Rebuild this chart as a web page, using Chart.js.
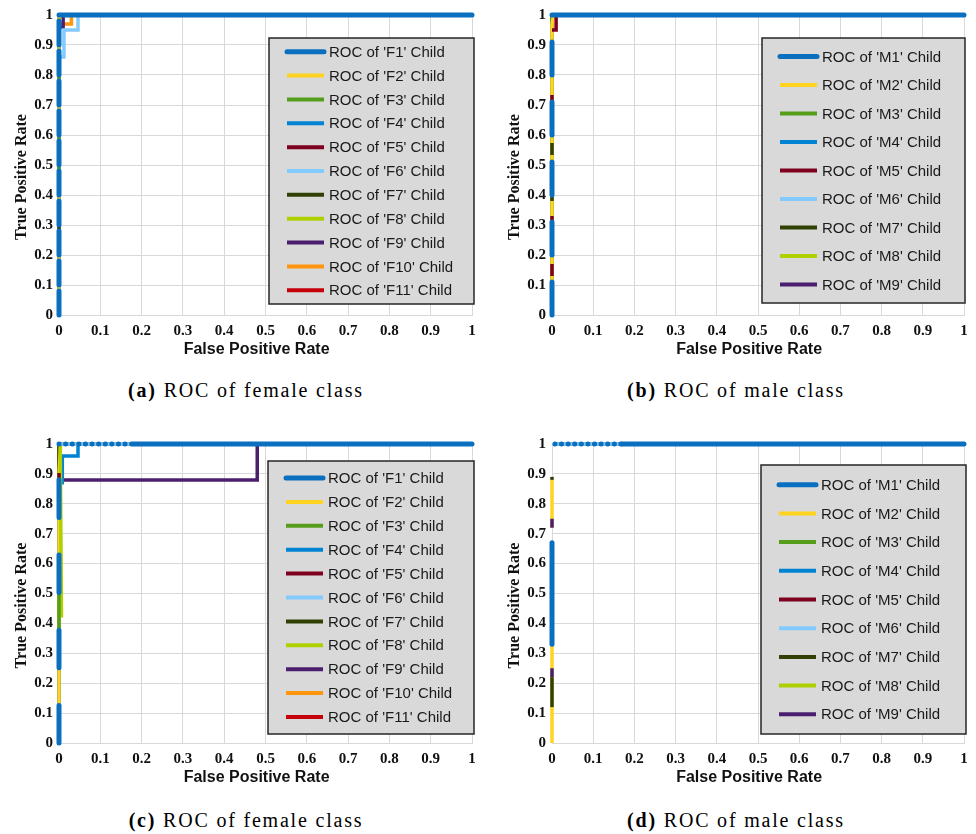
<!DOCTYPE html>
<html>
<head>
<meta charset="utf-8">
<script src="https://cdn.jsdelivr.net/npm/chart.js@4.4.0/dist/chart.umd.min.js"></script>
<style>
body{margin:0;background:#fff;width:976px;height:834px;position:relative;overflow:hidden}
.pane{position:absolute}
.cap{position:absolute;width:400px;text-align:center;font-family:"Liberation Serif",serif;font-size:20px;letter-spacing:1.8px;line-height:24px;color:#000}
</style>
</head>
<body>
<div class="pane" style="left:0;top:0;width:483px;height:360px"><canvas id="chartA"></canvas></div>
<div class="pane" style="left:493px;top:0;width:482px;height:360px"><canvas id="chartB"></canvas></div>
<div class="pane" style="left:0;top:429px;width:483px;height:359px"><canvas id="chartC"></canvas></div>
<div class="pane" style="left:493px;top:429px;width:482px;height:359px"><canvas id="chartD"></canvas></div>
<div class="cap" style="left:46px;top:378px"><b>(a)</b> ROC of female class</div>
<div class="cap" style="left:536px;top:378px"><b>(b)</b> ROC of male class</div>
<div class="cap" style="left:46px;top:808px"><b>(c)</b> ROC of female class</div>
<div class="cap" style="left:536px;top:808px"><b>(d)</b> ROC of male class</div>
<script>
// axis ticks (both axes, all panels)
var tickVals = [0, 0.1, 0.2, 0.3, 0.4, 0.5, 0.6, 0.7, 0.8, 0.9, 1];
var tickLabels = ['0', '0.1', '0.2', '0.3', '0.4', '0.5', '0.6', '0.7', '0.8', '0.9', '1'];

var femaleNames = ['F1', 'F2', 'F3', 'F4', 'F5', 'F6', 'F7', 'F8', 'F9', 'F10', 'F11'];
var maleNames = ['M1', 'M2', 'M3', 'M4', 'M5', 'M6', 'M7', 'M8', 'M9'];

// ROC points [fpr, tpr], null = break in the line
var rocA = [
	[[0, 0], [0, 1], [1, 1]],
	[[0, 0], [0, 1], [1, 1]],
	[[0, 0], [0, 1], [1, 1]],
	[[0, 0], [0, 1], [1, 1]],
	[[0, 0], [0, 1], [1, 1]],
	[[0, 0], [0, 0.86], [0.012, 0.86], [0.012, 0.95], [0.046, 0.95], [0.046, 1], [1, 1]],
	[[0, 0], [0, 1], [1, 1]],
	[[0, 0], [0, 0.97], [0.003, 1], [1, 1]],
	[[0, 0], [0, 0.96], [0.01, 0.96], [0.01, 1], [1, 1]],
	[[0, 0], [0, 0.97], [0.03, 0.97], [0.03, 1], [1, 1]],
	[[0, 0], [0, 1], [1, 1]]
];
var rocB = [
	[[0, 0], [0, 1], [1, 1]],
	[[0, 0], [0, 0.97], [0.004, 1], [1, 1]],
	[[0, 0], [0, 1], [1, 1]],
	[[0, 0], [0, 1], [1, 1]],
	[[0, 0], [0, 0.95], [0.01, 0.95], [0.01, 1], [1, 1]],
	[[0, 0], [0, 1], [1, 1]],
	[[0, 0], [0, 1], [1, 1]],
	[[0, 0], [0, 1], [1, 1]],
	[[0, 0], [0, 1], [1, 1]]
];
var rocC = [
	[[0, 0], [0, 1], [0.18, 1], [1, 1]],
	[[0, 0], [0, 0.9], [0.004, 1], [1, 1]],
	[[0, 0], [0, 1], [1, 1]],
	[[0, 0], [0, 0.87], [0.008, 0.87], [0.008, 0.96], [0.046, 0.96], [0.046, 1], [1, 1]],
	[[0, 0], [0, 1], [1, 1]],
	[[0, 0], [0, 1], [1, 1]],
	[[0, 0], [0, 1], [1, 1]],
	[[0.006, 0.42], [0.003, 1], [1, 1]],
	[[0, 0], [0, 0.88], [0.48, 0.88], [0.48, 1], [1, 1]],
	[[0, 0], [0, 1], [1, 1]],
	[[0, 0], [0, 1], [1, 1]]
];
var rocD = [
	[[0, 0.33], [0, 0.67], null, [0.007, 1], [0.17, 1], [1, 1]],
	[[0, 0], [0, 0.67], null, [0, 0.72], [0, 0.88]],
	[[0.007, 1], [1, 1]],
	[[0.007, 1], [1, 1]],
	[[0.007, 1], [1, 1]],
	[[0.007, 1], [1, 1]],
	[[0, 0.12], [0, 0.22], null, [0, 0.88], [0, 0.89]],
	[[0.007, 1], [1, 1]],
	[[0, 0.22], [0, 0.25], null, [0, 0.72], [0, 0.75]]
];

var seriesColors = ['#0b6fc0', '#ffd320', '#579d1c', '#0084d1', '#7e0021', '#83caff', '#314004', '#aecf00', '#4b1f6f', '#ff950e', '#c5000b'];

// drawing order (top first) and dash patterns of the lines on x = 0
var styleA = { order: [0, 2, 6, 1, 3, 4, 5, 7, 8, 9, 10], vDash: { 0: [24, 6], 2: [0, 144, 6, 24, 6, 54, 6, 500], 6: [0, 84, 6, 500] } };
var styleB = { order: [0, 4, 6, 1, 2, 3, 5, 7, 8], vDash: { 0: [33, 27], 4: [0, 39, 12, 42, 6, 115, 6, 500], 6: [0, 114, 6, 40, 12, 500] } };
var styleC = { order: [0, 5, 2, 4, 7, 1, 3, 8, 6, 9, 10], vDash: { 0: [37.6, 37.6], 5: [0, 1000], 2: [0, 112.8, 37.6, 500], 4: [0, 263, 7, 500] }, topDash: { 0: [0.1, 6.5] } };
var styleD = { order: [0, 5, 6, 8, 1, 2, 3, 4, 7], vDash: {}, topDash: { 0: [0.1, 6.5] } };

var boxLegend = {
	id: 'boxLegend',
	afterDraw: function(chart, args, opts){
		var ctx = chart.ctx, a = chart.chartArea;
		var x0 = a.left + opts.left, y0 = a.top + opts.top;
		var sets = chart.data.datasets;
		ctx.save();
		ctx.fillStyle = '#d9d9d9';
		ctx.fillRect(x0, y0, opts.width, opts.height);
		ctx.strokeStyle = '#262626';
		ctx.lineWidth = 1.5;
		ctx.strokeRect(x0, y0, opts.width, opts.height);
		var first = y0 + (opts.height - (sets.length - 1) * opts.rowH) / 2;
		ctx.font = '15px "Liberation Sans"';
		ctx.textBaseline = 'middle';
		for(var i = 0; i < sets.length; i++){
			var y = first + i * opts.rowH;
			ctx.beginPath();
			ctx.strokeStyle = sets[i].borderColor;
			ctx.lineWidth = i == 0 ? 5 : 4;
			ctx.lineCap = sets[i].borderCapStyle;
			ctx.moveTo(x0 + 18, y);
			ctx.lineTo(x0 + 55, y);
			ctx.stroke();
			ctx.fillStyle = '#1a1a1a';
			ctx.fillText(sets[i].label, x0 + 60, y + 1);
		}
		ctx.restore();
	}
};

function buildSets(names, curves, style){
	return curves.map(function(curve, i){
		var pts = [];
		curve.forEach(function(p, k){
			if(p === null) pts.push({ x: curve[k - 1][0], y: null });
			else pts.push({ x: p[0], y: p[1] });
		});
		var vd = style.vDash[i];
		var td = style.topDash ? style.topDash[i] : undefined;
		return {
			label: "ROC of '" + names[i] + "' Child",
			data: pts,
			showLine: true,
			borderColor: seriesColors[i],
			backgroundColor: seriesColors[i],
			borderWidth: i == 0 ? 5 : 3.5,
			borderCapStyle: i == 0 ? 'round' : 'butt',
			pointRadius: 0,
			spanGaps: false,
			clip: 10,
			order: style.order.indexOf(i),
			segment: {
				borderDash: function(c){
					var p = c.p0.parsed, q = c.p1.parsed;
					if(vd && p.x === 0 && q.x === 0) return vd;
					if(td && p.y === 1 && q.y === 1 && c.p0DataIndex === curve.length - 3) return td;
					return undefined;
				}
			}
		};
	});
}

function axisX(){
	return {
		type: 'linear', min: 0, max: 1,
		afterBuildTicks: function(s){ s.ticks = tickVals.map(function(v){ return { value: v }; }); },
		afterFit: function(s){ s.height = 45; },
		ticks: {
			autoSkip: false, maxRotation: 0, padding: 7, color: '#111',
			font: { family: 'Liberation Serif', size: 15, weight: 'bold' },
			callback: function(v, i){ return tickLabels[i]; }
		},
		grid: { color: '#d9d9d9', lineWidth: 1, drawTicks: false },
		border: { color: '#d9d9d9' },
		title: {
			// trailing spaces nudge the title a little left, as in the original
			display: true, text: 'False Positive Rate    ', color: '#111',
			font: { family: 'Liberation Sans', size: 16, weight: 'bold' },
			padding: { top: 0, bottom: 1 }
		}
	};
}

function axisY(){
	return {
		type: 'linear', min: 0, max: 1,
		afterBuildTicks: function(s){ s.ticks = tickVals.map(function(v){ return { value: v }; }); },
		afterFit: function(s){ s.width = 59; },
		ticks: {
			autoSkip: false, padding: 6, color: '#111',
			font: { family: 'Liberation Serif', size: 15, weight: 'bold' },
			callback: function(v, i){ return tickLabels[i]; }
		},
		grid: { color: '#d9d9d9', lineWidth: 1, drawTicks: false },
		border: { color: '#d9d9d9' },
		title: {
			display: true, text: 'True Positive Rate\u2002\u2002\u2002', color: '#111',
			font: { family: 'Liberation Serif', size: 16, weight: 'bold' },
			padding: { top: 12, bottom: 0 }
		}
	};
}

function makeChart(id, names, curves, style, legendBox){
	return new Chart(document.getElementById(id), {
		type: 'scatter',
		data: { datasets: buildSets(names, curves, style) },
		options: {
			responsive: true,
			maintainAspectRatio: false,
			animation: false,
			events: [],
			layout: { padding: { top: 14, right: 11, left: 0, bottom: 0 } },
			scales: { x: axisX(), y: axisY() },
			plugins: {
				legend: { display: false },
				tooltip: { enabled: false },
				boxLegend: legendBox
			}
		},
		plugins: [boxLegend]
	});
}

makeChart('chartA', femaleNames, rocA, styleA, { left: 210, top: 23, width: 205, height: 266, rowH: 23.85 });
makeChart('chartB', maleNames, rocB, styleB, { left: 210, top: 23, width: 203, height: 265, rowH: 28.5 });
makeChart('chartC', femaleNames, rocC, styleC, { left: 209, top: 17, width: 206, height: 273, rowH: 23.9 });
makeChart('chartD', maleNames, rocD, styleD, { left: 209, top: 21, width: 205, height: 269, rowH: 28.7 });
</script>
</body>
</html>
